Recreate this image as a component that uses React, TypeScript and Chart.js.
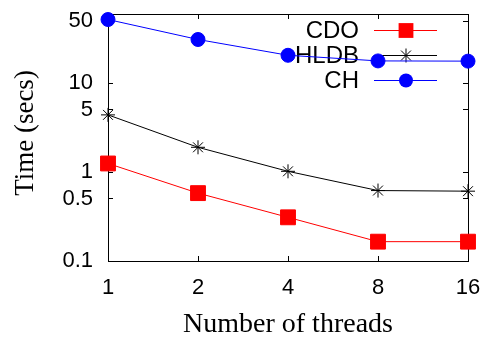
import { useEffect, useRef } from 'react';
import { Chart, registerables } from 'chart.js';

Chart.register(...registerables);

const threads = ['1', '2', '4', '8', '16'];
const cdoTimes = [1.25, 0.58, 0.31, 0.165, 0.165];
const hldbTimes = [4.4, 1.9, 1.02, 0.62, 0.61];
const chTimes = [52, 31, 20.6, 17.8, 17.7];
const yTickValues = [0.1, 0.5, 1, 5, 10, 50];
const seriesNames = ['CDO', 'HLDB', 'CH'];
const seriesColors = ['#ff0000', '#000000', '#0000ff'];
const seriesMarkers = ['rect', 'star', 'circle'];

const SANS = '"Liberation Sans", Arial, sans-serif';
const SERIF = '"Liberation Serif", "Times New Roman", serif';

function drawMarker(ctx: CanvasRenderingContext2D, kind: string, x: number, y: number, color: string) {
  ctx.save();
  ctx.fillStyle = color;
  ctx.strokeStyle = color;
  ctx.lineWidth = 1;
  if (kind === 'rect') {
    const s = 7.4;
    ctx.fillRect(x - s, y - s, 2 * s, 2 * s);
  } else if (kind === 'circle') {
    ctx.beginPath();
    ctx.arc(x, y, 7, 0, Math.PI * 2);
    ctx.fill();
  } else {
    const r = 7;
    const d = r * Math.SQRT1_2;
    ctx.beginPath();
    ctx.moveTo(x - r, y); ctx.lineTo(x + r, y);
    ctx.moveTo(x, y - r); ctx.lineTo(x, y + r);
    ctx.moveTo(x - d, y - d); ctx.lineTo(x + d, y + d);
    ctx.moveTo(x - d, y + d); ctx.lineTo(x + d, y - d);
    ctx.stroke();
  }
  ctx.restore();
}

function drawLegend(chart: any) {
  const ctx: CanvasRenderingContext2D = chart.ctx;
  const textRight = 359;
  const lineStart = 374;
  const lineEnd = 437;
  const markerX = 406;
  const rowY = [30.5, 55.5, 80.5];
  ctx.save();
  ctx.font = `24px ${SANS}`;
  ctx.textAlign = 'right';
  ctx.textBaseline = 'middle';
  ctx.lineWidth = 1;
  seriesNames.forEach((name, i) => {
    const y = rowY[i];
    ctx.fillStyle = '#000';
    ctx.fillText(name, textRight, y + 1);
    ctx.strokeStyle = seriesColors[i];
    ctx.beginPath();
    ctx.moveTo(lineStart, y);
    ctx.lineTo(lineEnd, y);
    ctx.stroke();
    drawMarker(ctx, seriesMarkers[i], markerX, y, seriesColors[i]);
  });
  ctx.restore();
}

const decorPlugin = {
  id: 'decor',
  beforeDatasetsDraw(chart: any) {
    drawLegend(chart);
  },
  afterDraw(chart: any) {
    const ctx: CanvasRenderingContext2D = chart.ctx;
    const a = chart.chartArea;
    ctx.save();
    ctx.fillStyle = '#000';
    ctx.textAlign = 'center';
    ctx.textBaseline = 'alphabetic';
    ctx.font = `28px ${SERIF}`;
    ctx.fillText('Number of threads', (a.left + a.right) / 2, 332);
    ctx.translate(33, 133);
    ctx.rotate(-Math.PI / 2);
    ctx.font = `27px ${SERIF}`;
    ctx.fillText('Time (secs)', 0, 0);
    ctx.restore();
  },
};

function zeroPad(s: any) {
  s.paddingTop = 0;
  s.paddingBottom = 0;
  s.paddingLeft = 0;
  s.paddingRight = 0;
}

const frameGrid = {
  display: true,
  drawOnChartArea: false,
  drawTicks: true,
  tickLength: -5,
  color: '#000',
  tickColor: '#000',
  lineWidth: 1,
};
const frameBorder = { display: true, color: '#000', width: 1 };
const setLogTicks = (s: any) => { s.ticks = yTickValues.map((v) => ({ value: v })); };

export default function App() {
  const ref = useRef<HTMLCanvasElement | null>(null);
  useEffect(() => {
    if (!ref.current) return;
    const datasets = [cdoTimes, hldbTimes, chTimes].map((data, i) => ({
      label: seriesNames[i],
      data,
      borderColor: seriesColors[i],
      backgroundColor: seriesColors[i],
      pointBackgroundColor: seriesColors[i],
      pointBorderColor: seriesColors[i],
      pointStyle: seriesMarkers[i],
      pointRadius: seriesMarkers[i] === 'rect' ? 10.5 : 7,
      pointBorderWidth: 1,
      borderWidth: 1,
      clip: false,
      xAxisID: 'x',
      yAxisID: 'y',
    }));
    const chart = new Chart(ref.current, {
      type: 'line',
      data: { labels: threads, datasets },
      plugins: [decorPlugin],
      options: {
        animation: false,
        responsive: false,
        events: [],
        layout: { padding: { top: 14, right: 13, left: 0, bottom: 0 } },
        plugins: { legend: { display: false }, tooltip: { enabled: false } },
        scales: {
          x: {
            type: 'category',
            position: 'bottom',
            offset: false,
            grid: frameGrid,
            border: frameBorder,
            ticks: { color: '#000', font: { family: SANS, size: 22 }, padding: 19, maxRotation: 0, autoSkip: false },
            afterFit: (s: any) => { s.height = 76; zeroPad(s); },
          },
          x2: {
            type: 'category',
            position: 'top',
            offset: false,
            grid: frameGrid,
            border: frameBorder,
            ticks: { display: false, autoSkip: false },
            afterFit: (s: any) => { s.height = 0; zeroPad(s); },
          },
          y: {
            type: 'logarithmic',
            position: 'left',
            min: 0.1,
            max: 60,
            grid: frameGrid,
            border: frameBorder,
            afterBuildTicks: setLogTicks,
            ticks: { color: '#000', font: { family: SANS, size: 22 }, padding: 20, callback: (v: any) => String(v) },
            afterFit: (s: any) => { s.width = 108; zeroPad(s); },
          },
          y2: {
            type: 'logarithmic',
            position: 'right',
            min: 0.1,
            max: 60,
            grid: frameGrid,
            border: frameBorder,
            afterBuildTicks: setLogTicks,
            ticks: { display: false },
            afterFit: (s: any) => { s.width = 0; zeroPad(s); },
          },
        },
      },
    } as any);
    return () => chart.destroy();
  }, []);
  return (
    <div style={{ position: 'fixed', left: 0, top: 0, width: 481, height: 337, background: '#fff' }}>
      <canvas ref={ref} width={481} height={337} style={{ display: 'block', width: 481, height: 337 }} />
    </div>
  );
}
